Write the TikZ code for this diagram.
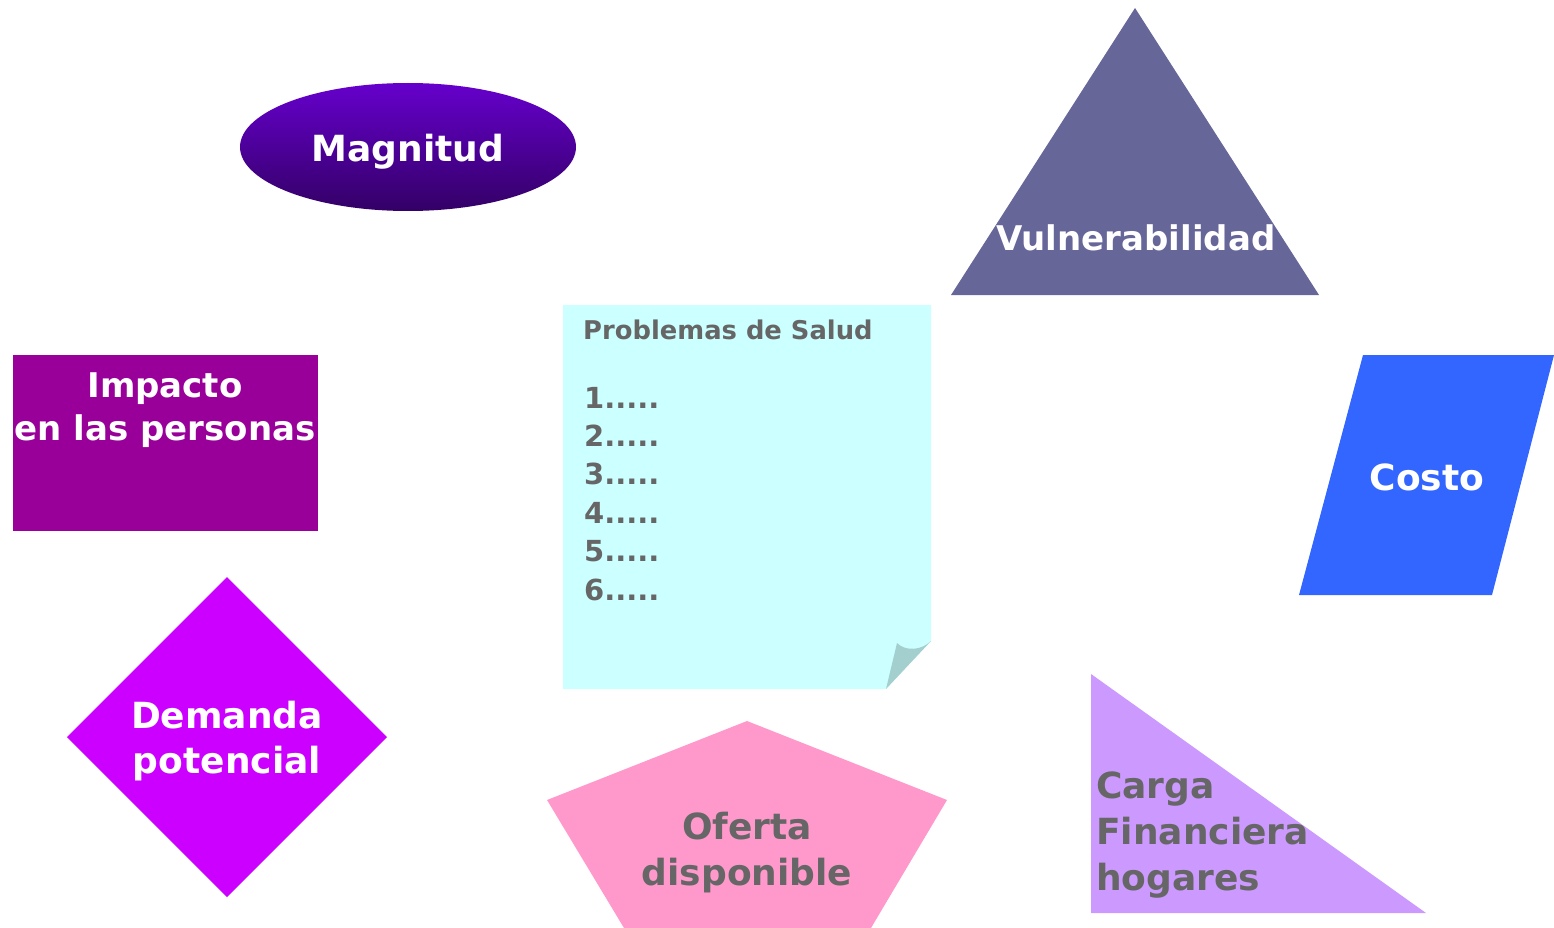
\documentclass[tikz,border=0pt]{standalone}
\usepackage{fontspec}
\setmainfont{DejaVu Sans}
\definecolor{magtop}{HTML}{6600CC}
\definecolor{magbottom}{HTML}{330066}
\definecolor{vulnfill}{HTML}{666699}
\definecolor{impfill}{HTML}{990099}
\definecolor{notefill}{HTML}{CCFFFF}
\definecolor{foldfill}{HTML}{A3CFCF}
\definecolor{costfill}{HTML}{3366FF}
\definecolor{demfill}{HTML}{CC00FF}
\definecolor{ofefill}{HTML}{FF99CC}
\definecolor{cargfill}{HTML}{CC99FF}
\definecolor{textgray}{HTML}{666666}

\begin{document}
\begin{tikzpicture}[x=1pt,y=-1pt,
    wtext/.style={inner sep=0pt,text=white,align=center,font=\bfseries\fontsize{36}{45}\selectfont},
    gtext/.style={inner sep=0pt,text=textgray,align=center,font=\bfseries\fontsize{36}{46}\selectfont},
    numtext/.style={inner sep=0pt,text=textgray,font=\bfseries\fontsize{29}{38}\selectfont}]

    \useasboundingbox (0,0) rectangle (1554,928);

    % shapes
    \shade[top color=magtop,bottom color=magbottom] (408,147) ellipse [x radius=168,y radius=64];
    \fill[vulnfill] (1135,8) -- (1319,295) -- (951,295) -- cycle;
    \fill[impfill] (13,355) rectangle (318,531);
    \fill[notefill] (563,305) -- (931,305) -- (931,641) -- (886,689) -- (563,689) -- cycle;
    \fill[foldfill] (886,689) -- (897,643) .. controls (906,652) and (922,650) .. (931,641) -- cycle;
    \fill[costfill] (1363,355) -- (1554,355) -- (1492,595) -- (1299,595) -- cycle;
    \fill[demfill] (227,577) -- (387,737) -- (227,897) -- (67,737) -- cycle;
    \fill[ofefill] (747,721) -- (947,800) -- (871,928) -- (624,928) -- (547,800) -- cycle;
    \fill[cargfill] (1091,674) -- (1426,913) -- (1091,913) -- cycle;

    % texts
    \node[wtext,anchor=base] (magnitud) at (408,162) {Magnitud};
    \node[wtext,anchor=base,font=\bfseries\fontsize{34}{42}\selectfont] (vulnerab) at (1136,250) {Vulnerabilidad};
    \node[wtext,anchor=base,font=\bfseries\fontsize{34}{43}\selectfont] (impacto) at (165,440) {Impacto\\en las personas};
    \node[wtext,anchor=base] (costo) at (1427,490) {Costo};
    \node[wtext,anchor=base] (demanda) at (227,773) {Demanda\\potencial};
    \node[gtext,anchor=base] (oferta) at (747,885) {Oferta\\disponible};
    \node[gtext,anchor=base west,align=left] (carga) at (1096,890) {Carga\\Financiera\\hogares};

    \node[numtext,anchor=base west,font=\bfseries\fontsize{25.8}{30}\selectfont] (titulo) at (583,339) {Problemas de Salud};
    \foreach \n in {1,...,6}
        {
        \node[numtext,anchor=base west] (item\n) at ({584},{408+38.4*(\n-1)}) {\n.....};
        }

\end{tikzpicture}
\end{document}
